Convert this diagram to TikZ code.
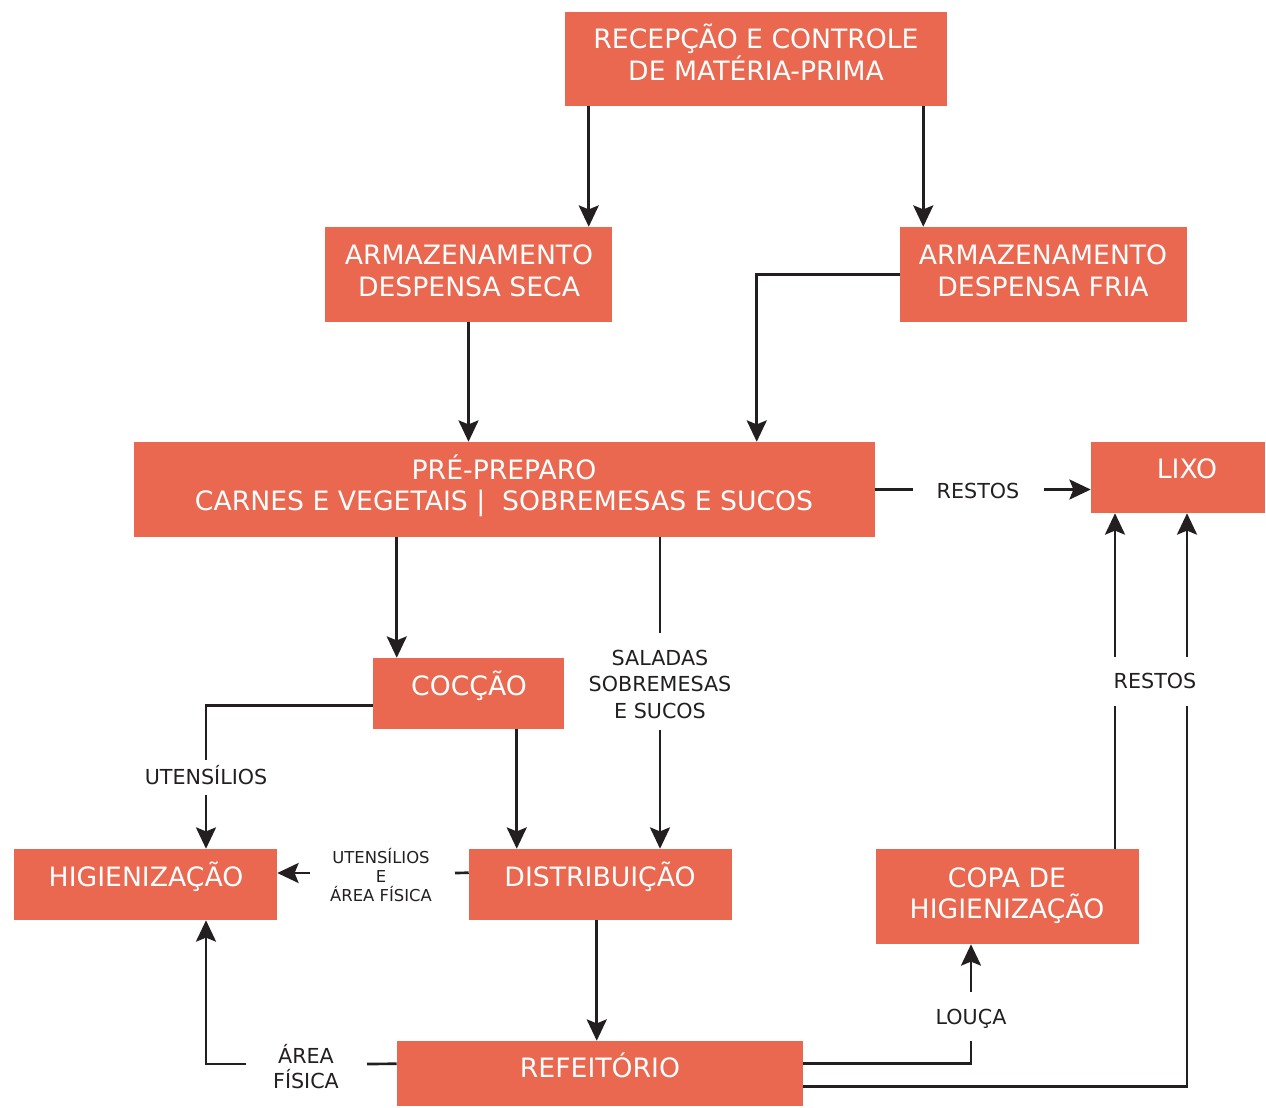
\documentclass[tikz,border=0pt]{standalone}
\usepackage{fontspec}
\setmainfont{DejaVu Sans}
\usetikzlibrary{arrows.meta,calc}
\definecolor{boxfill}{RGB}{234,104,80}
\definecolor{ink}{RGB}{35,31,32}
\tikzset{
  box/.style={fill=boxfill,draw=none,inner sep=0pt,rectangle},
  btxt/.style={anchor=base,inner sep=0pt,text=white,font=\fontsize{20}{24}\selectfont},
  ltxt/.style={anchor=base,inner sep=0pt,text=ink,font=\fontsize{15.5}{19}\selectfont},
  stxt/.style={anchor=base,inner sep=0pt,text=ink,font=\fontsize{12.3}{15}\selectfont},
  conn/.style={draw=ink,line width=2pt},
  arr/.style={conn,-{Stealth[length=16pt,width=15pt,inset=3pt]}}
}
\newcommand\mybox[5]{\node[box,minimum width=#4*0.75pt,minimum height=#5*0.75pt] (#1) at (#2,#3) {};}
\begin{document}
\begin{tikzpicture}[x=0.75pt,y=-0.75pt]
\useasboundingbox[fill=white] (0,0) rectangle (1266,1107);
% boxes
\mybox{rec}{756}{59}{382}{94}
\mybox{seca}{468.5}{274.5}{287}{95}
\mybox{fria}{1043.5}{274.5}{287}{95}
\mybox{pre}{504.5}{489.5}{741}{95}
\mybox{lixo}{1178}{477.5}{174}{71}
\mybox{coc}{468.5}{693.5}{191}{71}
\mybox{hig}{145.5}{884.5}{263}{71}
\mybox{dist}{600.5}{884.5}{263}{71}
\mybox{copa}{1007.5}{896.5}{263}{95}
\mybox{ref}{600}{1073.5}{406}{65}
% box texts
\node[btxt] (t1a) at (756,48) {RECEPÇÃO E CONTROLE};
\node[btxt] (t1b) at (756,80) {DE MATÉRIA-PRIMA};
\node[btxt] (t2a) at (469,264) {ARMAZENAMENTO};
\node[btxt] (t2b) at (469,296) {DESPENSA SECA};
\node[btxt] (t3a) at (1043,264) {ARMAZENAMENTO};
\node[btxt] (t3b) at (1043,296) {DESPENSA FRIA};
\node[btxt] (t4a) at (504,479) {PRÉ-PREPARO};
\node[btxt] (t4b) at (504,510) {CARNES E VEGETAIS |\ \ SOBREMESAS E SUCOS};
\node[btxt] (t5) at (1187,478) {LIXO};
\node[btxt] (t6) at (469,695) {COCÇÃO};
\node[btxt] (t7) at (146,886) {HIGIENIZAÇÃO};
\node[btxt] (t8) at (600,886) {DISTRIBUIÇÃO};
\node[btxt] (t9a) at (1007,887) {COPA DE};
\node[btxt] (t9b) at (1007,918) {HIGIENIZAÇÃO};
\node[btxt] (t10) at (600,1077) {REFEITÓRIO};
% labels
\node[ltxt] (l1) at (978,498) {RESTOS};
\node[ltxt] (l2a) at (660,665) {SALADAS};
\node[ltxt] (l2b) at (660,691) {SOBREMESAS};
\node[ltxt] (l2c) at (660,718) {E SUCOS};
\node[ltxt] (l3) at (206,784) {UTENSÍLIOS};
\node[stxt] (l4a) at (381,863) {UTENSÍLIOS};
\node[stxt] (l4b) at (381,882) {E};
\node[stxt] (l4c) at (381,901) {ÁREA FÍSICA};
\node[ltxt] (l5a) at (306,1063) {ÁREA};
\node[ltxt] (l5b) at (306,1088) {FÍSICA};
\node[ltxt] (l6) at (971,1024) {LOUÇA};
\node[ltxt] (l7) at (1155,688) {RESTOS};
% connectors
\draw[arr] ($(rec.south west)+(24,0)$) coordinate (a1) -- (a1 |- seca.north);
\draw[arr] ($(rec.south east)+(-24,0)$) coordinate (a2) -- (a2 |- fria.north);
\draw[arr] (seca.south) -- (seca.south |- pre.north);
\draw[arr] (fria.west) -| ($(pre.north west)+(623,0)$);
% restos to lixo
\coordinate (r1) at (913,489.5);
\coordinate (r2) at (1044,489.5);
\draw[conn] (pre.east) -- (r1);
\draw[arr] (r2) -- (r2 -| lixo.west);
% pre to coccao
\draw[arr] ($(coc.north west)+(24,0)$) coordinate (a3) (a3 |- pre.south) -- (a3);
% pre to dist via saladas
\coordinate (s1) at (660,633);
\coordinate (s2) at (660,730);
\draw[conn] (s1 |- pre.south) -- (s1);
\draw[arr] (s2) -- (s2 |- dist.north);
% coccao to hig via utensilios
\coordinate (u1) at (206,760);
\coordinate (u2) at (206,795);
\draw[conn] ($(coc.south west)+(0,-24)$) -| (u1);
\draw[arr] (u2) -- (u2 |- hig.north);
% coccao to dist
\draw[arr] ($(coc.south west)+(144,0)$) coordinate (a4) -- (a4 |- dist.north);
% dist to hig
\coordinate (d1) at (455,873);
\coordinate (d2) at (310,873);
\draw[conn] ($(dist.north west)+(0,24)$) -- (d1);
\draw[arr] (d2) -- (d2 -| hig.east);
% dist to ref
\draw[arr] ($(dist.south west)+(128,0)$) coordinate (a5) -- (a5 |- ref.north);
% ref to hig via area fisica
\coordinate (f1) at (367,1064);
\coordinate (f2) at (246,1064);
\draw[conn] ($(ref.north west)+(0,23)$) -- (f1);
\draw[arr] (f2) -| (hig.south -| u1);
% ref to copa via louca
\coordinate (o1) at (971,1041);
\coordinate (o2) at (971,992);
\draw[conn] ($(ref.north east)+(0,23)$) -| (o1);
\draw[arr] (o2) -- (o2 |- copa.south);
% ref to lixo via restos
\coordinate (p1) at (1187,706);
\coordinate (p2) at (1187,657);
\draw[conn] ($(ref.north east)+(0,46)$) -| (p1);
\draw[arr] (p2) -- (p2 |- lixo.south);
% copa to lixo
\coordinate (q1) at (1115,706);
\coordinate (q2) at (1115,657);
\draw[conn] (q1 |- copa.north) -- (q1);
\draw[arr] (q2) -- (q2 |- lixo.south);
\end{tikzpicture}
\end{document}
